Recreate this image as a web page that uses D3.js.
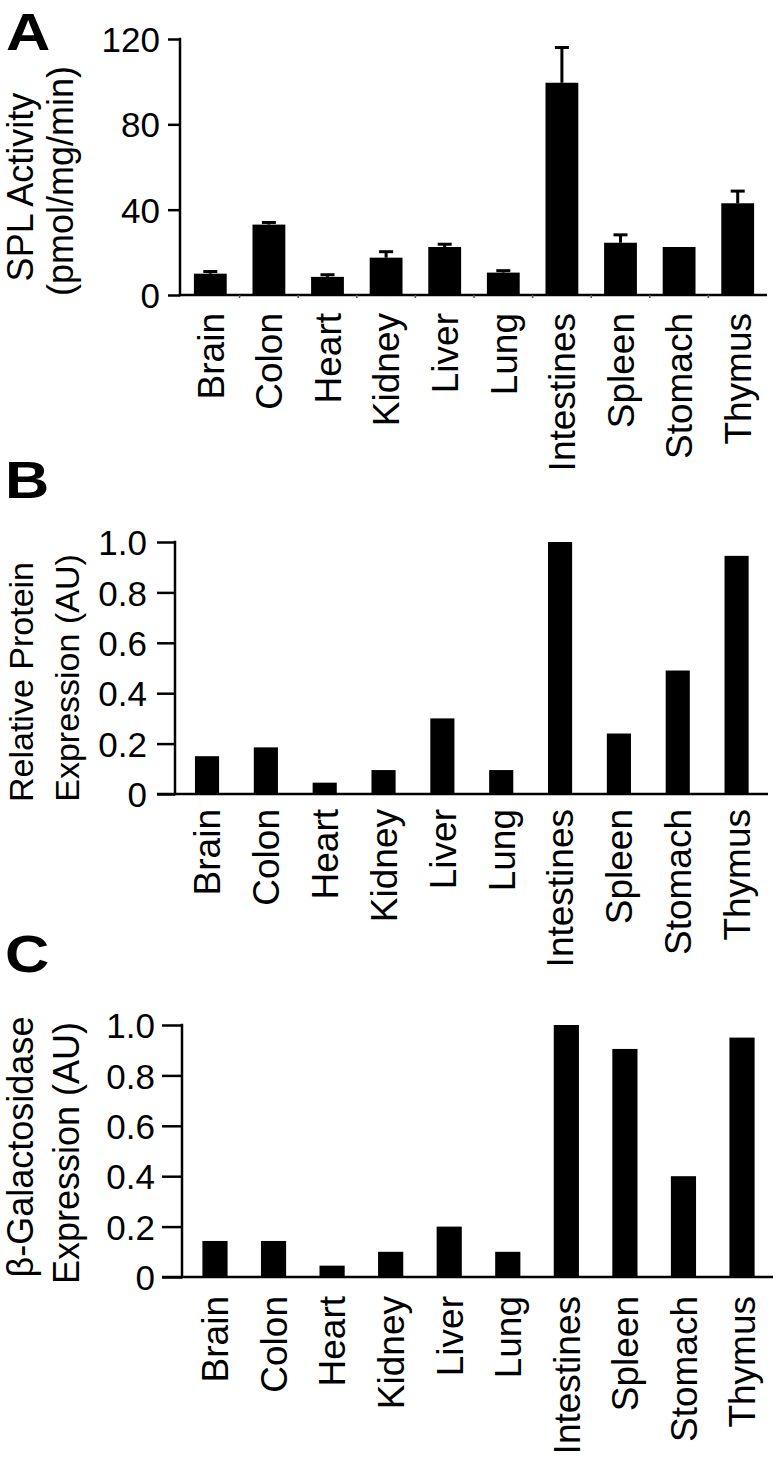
<!DOCTYPE html>
<html>
<head>
<meta charset="utf-8">
<script src="https://cdn.jsdelivr.net/npm/d3@7"></script>
<style>
  html, body { margin: 0; padding: 0; background: #fff; }
  svg text { font-family: "Liberation Sans", Arial, Helvetica, sans-serif; fill: #000; }
</style>
</head>
<body>
<svg id="chart" width="781" height="1459"></svg>
<script>
// ---------- data ----------
const categories = ["Brain", "Colon", "Heart", "Kidney", "Liver", "Lung", "Intestines", "Spleen", "Stomach", "Thymus"];
const splActivity = [10, 33, 8.5, 17.5, 22.5, 10.5, 99.5, 24.5, 22.5, 43];
const splError    = [1, 1, 1, 2.8, 1.3, 0.9, 16.5, 3.7, 0, 5.7];
const proteinExpression = [0.15, 0.185, 0.045, 0.095, 0.3, 0.095, 1.0, 0.24, 0.49, 0.945];
const galExpression     = [0.143, 0.143, 0.045, 0.1, 0.2, 0.1, 1.0, 0.905, 0.4, 0.95];
const ticksA  = [0, 40, 80, 120];
const ticksBC = [0, 0.2, 0.4, 0.6, 0.8, 1.0];
const titleA = ["SPL Activity", "(pmol/mg/min)"];
const titleB = ["Relative Protein", "Expression (AU)"];
const titleC = ["\u03B2-Galactosidase", "Expression (AU)"];

const svg = d3.select("#chart");

function panel(cfg) {
  const g = svg.append("g");
  const x = d3.scaleBand().domain(categories).range(cfg.xRange).paddingInner(cfg.pad).paddingOuter(cfg.pad / 2);
  const y = d3.scaleLinear().domain(cfg.domain).range(cfg.yRange);

  // bars
  g.selectAll("rect.bar").data(categories).enter().append("rect")
    .attr("x", d => x(d))
    .attr("width", x.bandwidth())
    .attr("y", (d, i) => y(cfg.values[i]))
    .attr("height", (d, i) => y(0) - y(cfg.values[i]))
    .attr("fill", "#000");

  // error bars
  if (cfg.errors) {
    const eg = g.append("g");
    categories.forEach((c, i) => {
      const e = cfg.errors[i];
      if (!e) return;
      const cx = x(c) + x.bandwidth() / 2;
      eg.append("line").attr("x1", cx).attr("x2", cx)
        .attr("y1", y(cfg.values[i])).attr("y2", y(cfg.values[i] + e))
        .attr("stroke", "#000").attr("stroke-width", 3);
      eg.append("line").attr("x1", cx - 7).attr("x2", cx + 7)
        .attr("y1", y(cfg.values[i] + e)).attr("y2", y(cfg.values[i] + e))
        .attr("stroke", "#000").attr("stroke-width", 3);
    });
  }

  // y axis
  const yAxis = d3.axisLeft(y).tickValues(cfg.ticks).tickSize(cfg.tickLen).tickPadding(cfg.tickPad)
    .tickFormat(cfg.fmt);
  const ya = g.append("g").attr("transform", `translate(${cfg.axisX},0)`).call(yAxis);
  ya.select(".domain").remove();
  ya.selectAll(".tick line").attr("stroke", "#000").attr("stroke-width", 2.5);
  ya.selectAll(".tick text").style("font-size", "35px").attr("dy", "0.36em");
  g.append("line").attr("x1", cfg.axisX).attr("x2", cfg.axisX)
    .attr("y1", y(cfg.domain[1]) - 1.25).attr("y2", y(0) + 1.25)
    .attr("stroke", "#000").attr("stroke-width", 2.5);

  // x axis line
  g.append("line").attr("x1", cfg.xLineStart).attr("x2", cfg.xLineEnd)
    .attr("y1", y(0)).attr("y2", y(0))
    .attr("stroke", "#000").attr("stroke-width", 2.5);

  // small boundary ticks (panel A)
  if (cfg.minorX) {
    categories.slice(1).forEach(c => {
      const bx = x(c) - x.step() * cfg.pad / 2;
      g.append("line").attr("x1", bx).attr("x2", bx).attr("y1", y(0)).attr("y2", y(0) + 3)
        .attr("stroke", "#555").attr("stroke-width", 1.5);
    });
  }

  // category labels
  const xAxis = d3.axisBottom(x).tickSize(0).tickPadding(0);
  const xa = g.append("g").attr("transform", `translate(0,${y(0) + cfg.labelGap})`).call(xAxis);
  xa.select(".domain").remove();
  xa.selectAll(".tick text")
    .style("font-size", "37px")
    .attr("text-anchor", "end")
    .attr("transform", "rotate(-90)")
    .attr("x", 0).attr("y", 0).attr("dy", "0.36em");

  // y titles
  cfg.title.forEach((t, k) => {
    g.append("text")
      .attr("transform", `translate(${cfg.titleX[k]},${cfg.titleY[k]}) rotate(-90)`)
      .attr("text-anchor", "middle")
      .style("font-size", cfg.titleSize + "px")
      .text(t);
  });

  // panel letter
  g.append("text")
    .attr("transform", `translate(${cfg.letterPos[0]},${cfg.letterPos[1]}) scale(1.18,1)`)
    .style("font-size", "52px").style("font-weight", "bold")
    .text(cfg.letter);
}

const fmtBC = d => d === 0 ? "0" : d.toFixed(1);

panel({
  letter: "A", letterPos: [6, 50],
  values: splActivity, errors: splError, domain: [0, 120], ticks: ticksA, fmt: d3.format("d"),
  xRange: [181, 767], yRange: [295, 39], pad: 0.44,
  axisX: 180, tickLen: 12, tickPad: 8, xLineStart: 180, xLineEnd: 767, minorX: true,
  labelGap: 18, title: titleA, titleX: [33, 73], titleY: [187, 181], titleSize: 36
});

panel({
  letter: "B", letterPos: [5, 498],
  values: proteinExpression, domain: [0, 1], ticks: ticksBC, fmt: fmtBC,
  xRange: [177.6, 766], yRange: [794, 542], pad: 0.59,
  axisX: 175, tickLen: 18, tickPad: 10, xLineStart: 157, xLineEnd: 768,
  labelGap: 15, title: titleB, titleX: [33, 79], titleY: [682, 678], titleSize: 34
});

panel({
  letter: "C", letterPos: [5, 972],
  values: galExpression, domain: [0, 1], ticks: ticksBC, fmt: fmtBC,
  xRange: [185.7, 771.3], yRange: [1277, 1025], pad: 0.57,
  axisX: 182, tickLen: 20, tickPad: 7, xLineStart: 162, xLineEnd: 773,
  labelGap: 19, title: titleC, titleX: [33, 79], titleY: [1147, 1153], titleSize: 36
});
</script>
</body>
</html>
